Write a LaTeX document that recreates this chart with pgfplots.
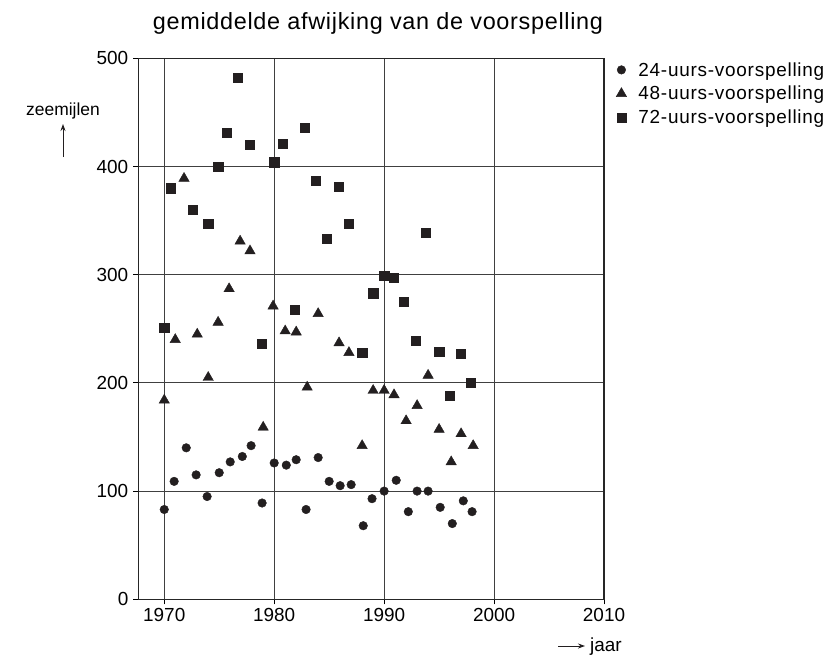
\documentclass[border=0pt]{standalone}
\usepackage{fontspec}
\setmainfont{Liberation Sans}
\usepackage{pgfplots}
\pgfplotsset{compat=1.18}
\usetikzlibrary{arrows.meta}
\definecolor{ink}{RGB}{35,31,32}
\begin{document}
\begin{tikzpicture}
\useasboundingbox (0,0) rectangle (830bp,-657bp);
\begin{axis}[
  at={(138.3bp,-599.3bp)}, anchor=south west,
  scale only axis, width=465.7bp, height=541bp,
  xmin=1967.64, xmax=2010, ymin=0, ymax=500,
  xtick={1970,1980,1990,2000,2010}, ytick={0,100,200,300,400,500},
  grid=major, major grid style={black!75, line width=1bp},
  axis line style={black!85, line width=1.2bp},
  tick align=outside, tick pos=left, major tick length=5bp,
  tick style={black, line width=1bp},
  /pgf/number format/assume math mode=true,
  /pgf/number format/1000 sep={},
  tick label style={font=\fontsize{19}{21}\selectfont},
  yticklabel style={xshift=-1.5bp},
  clip=false,
  legend image code/.code={\draw[draw=none,fill=none] (0bp,0bp) -- (21bp,0bp); \draw[#1] plot coordinates {(4bp,0bp)};},
  legend style={draw=none, fill=none, at={(axis description cs:1.0258,0.993)}, anchor=north west,
    font=\fontsize{19}{21}\selectfont\addfontfeature{LetterSpace=4}, row sep=8.5bp, inner sep=0pt,
    nodes={inner sep=0pt}, cells={anchor=west}},
]
\addplot[only marks, mark=*, mark size=4.3bp, ink] coordinates {
(1970,83) (1970.9,109) (1972,140) (1972.9,115) (1973.9,95) (1975,117) (1976,127)
(1977.1,132) (1977.9,142) (1978.9,89) (1980,126) (1981.1,124) (1982,129) (1982.9,83)
(1984,131) (1985,109) (1986,105) (1987,106) (1988.1,68) (1988.9,93) (1990,100)
(1991.1,110) (1992.2,81) (1993,100) (1994,100) (1995.1,85) (1996.2,70) (1997.2,91) (1998,81)
};
\addlegendentry{24-uurs-voorspelling}
\addplot[only marks, mark=triangle*, mark size=6bp, ink] coordinates {
(1970,184) (1971,240) (1971.8,389) (1973,245) (1974,205) (1974.9,256) (1975.9,287)
(1976.9,331) (1977.8,322) (1979,159) (1979.9,271) (1981,248) (1982,247) (1983,196)
(1984,264) (1985.9,237) (1986.8,228) (1988,142) (1989,193) (1990,193) (1990.9,189)
(1992,165) (1993,179) (1994,207) (1995,157) (1996.1,127) (1997,153) (1998.1,142)
};
\addlegendentry{48-uurs-voorspelling}
\addplot[only marks, mark=square*, mark size=4.6bp, ink] coordinates {
(1970,251) (1970.6,380) (1972.6,360) (1974,347) (1974.9,400) (1975.7,431) (1976.7,482)
(1977.8,420) (1978.9,236) (1980,404) (1980.8,421) (1981.9,268) (1982.8,436) (1983.8,387)
(1984.8,333) (1985.9,381) (1986.8,347) (1988,228) (1989,283) (1990,299) (1990.9,297)
(1991.8,275) (1992.9,239) (1993.8,339) (1995,229) (1996,188) (1997,227) (1997.9,200)
};
\addlegendentry{72-uurs-voorspelling}
\end{axis}
\node[anchor=base, font=\fontsize{23.5}{28}\selectfont\addfontfeature{LetterSpace=3}] at (378bp,-29.3bp) {gemiddelde afwijking van de voorspelling};
\node[anchor=base, font=\fontsize{17.5}{21}\selectfont] at (63bp,-115bp) {zeemijlen};
\draw[ink, line width=0.9bp, -{Stealth[length=7bp,width=5bp]}] (63bp,-157bp) -- (63bp,-124bp);
\node[anchor=base west, font=\fontsize{19}{22}\selectfont, inner sep=0pt] at (590bp,-651bp) {jaar};
\draw[ink, line width=0.9bp, -{Stealth[length=7bp,width=5bp]}] (558bp,-646bp) -- (585bp,-646bp);
\end{tikzpicture}
\end{document}
